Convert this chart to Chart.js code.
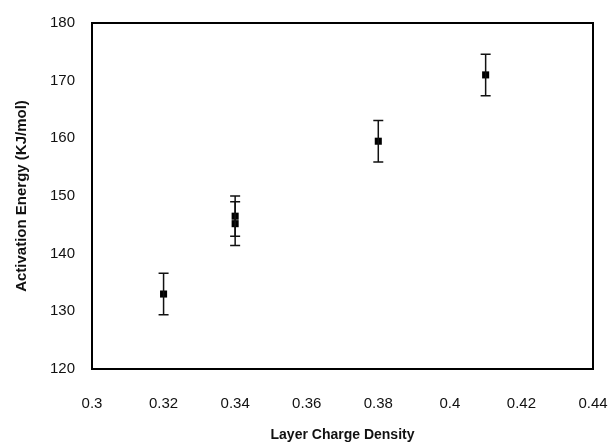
<!DOCTYPE html>
<html>
<head>
<meta charset="utf-8">
<script src="https://cdn.jsdelivr.net/npm/chart.js@4"></script>
<style>
    html, body { margin: 0; padding: 0; background: #fff; }
    #wrap { width: 614px; height: 444px; }
</style>
</head>
<body>
<div id="wrap"><canvas id="chart" width="614" height="444"></canvas></div>
<script>
// values
const chargeDensity = [0.32, 0.34, 0.34, 0.38, 0.41];
const activationEnergy = [133, 146.5, 145.2, 159.5, 171];
const energyError = [3.6, 3.5, 3.8, 3.6, 3.6];
const xTickLabels = ['0.3', '0.32', '0.34', '0.36', '0.38', '0.4', '0.42', '0.44'];
const yTickLabels = ['120', '130', '140', '150', '160', '170', '180'];

const points = chargeDensity.map((x, i) => ({ x: x, y: activationEnergy[i] }));

// draws the vertical error bars with caps, using the chart's scales
const errorBars = {
    id: 'errorBars',
    afterDatasetsDraw(chart) {
        const ctx = chart.ctx;
        const xs = chart.scales.x;
        const ys = chart.scales.y;
        ctx.save();
        ctx.strokeStyle = '#111';
        ctx.lineWidth = 1.5;
        points.forEach((p, i) => {
            const px = xs.getPixelForValue(p.x);
            const top = ys.getPixelForValue(p.y + energyError[i]);
            const bot = ys.getPixelForValue(p.y - energyError[i]);
            ctx.beginPath();
            ctx.moveTo(px, top);
            ctx.lineTo(px, bot);
            ctx.moveTo(px - 5, top);
            ctx.lineTo(px + 5, top);
            ctx.moveTo(px - 5, bot);
            ctx.lineTo(px + 5, bot);
            ctx.stroke();
        });
        ctx.restore();
    }
};

// box around the plot area
const frame = {
    id: 'frame',
    afterDraw(chart) {
        const a = chart.chartArea;
        const ctx = chart.ctx;
        ctx.save();
        ctx.strokeStyle = '#000';
        ctx.lineWidth = 2;
        ctx.strokeRect(a.left, a.top, a.right - a.left, a.bottom - a.top);
        ctx.restore();
    }
};

new Chart(document.getElementById('chart'), {
    type: 'scatter',
    data: {
        datasets: [{
            data: points,
            pointStyle: 'rect',
            pointRadius: 5,
            pointBackgroundColor: '#000',
            pointBorderColor: '#000',
            pointBorderWidth: 0,
        }],
    },
    options: {
        responsive: false,
        animation: false,
        layout: { padding: { left: 0, right: 21, top: 23, bottom: 0 } },
        plugins: {
            legend: { display: false },
            tooltip: { enabled: false },
        },
        scales: {
            x: {
                type: 'linear',
                min: 0.3,
                max: 0.44,
                afterFit(scale) {
                    scale.height = 75;
                    scale.paddingLeft = 0;
                    scale.paddingRight = 0;
                },
                afterBuildTicks(scale) {
                    scale.ticks = xTickLabels.map((t) => ({ value: parseFloat(t) }));
                },
                grid: { display: false, drawTicks: false },
                border: { display: false },
                ticks: {
                    padding: 26,
                    color: '#111',
                    font: { family: 'Liberation Sans', size: 15 },
                    callback: (v, i) => xTickLabels[i],
                },
                title: {
                    display: true,
                    text: 'Layer Charge Density',
                    color: '#111',
                    padding: { top: 3, bottom: 0 },
                    font: { family: 'Liberation Sans', size: 14, weight: 'bold' },
                },
            },
            y: {
                min: 120,
                max: 180,
                afterFit(scale) {
                    scale.width = 92;
                    scale.paddingTop = 0;
                    scale.paddingBottom = 0;
                },
                afterBuildTicks(scale) {
                    scale.ticks = yTickLabels.map((t) => ({ value: parseFloat(t) }));
                },
                grid: { display: false, drawTicks: false },
                border: { display: false },
                ticks: {
                    padding: 17,
                    color: '#111',
                    font: { family: 'Liberation Sans', size: 15 },
                    callback: (v, i) => yTickLabels[i],
                },
                title: {
                    display: true,
                    text: 'Activation Energy (KJ/mol)',
                    color: '#111',
                    padding: { top: 13, bottom: 0 },
                    font: { family: 'Liberation Sans', size: 15, weight: 'bold' },
                },
            },
        },
    },
    plugins: [errorBars, frame],
});
</script>
</body>
</html>
